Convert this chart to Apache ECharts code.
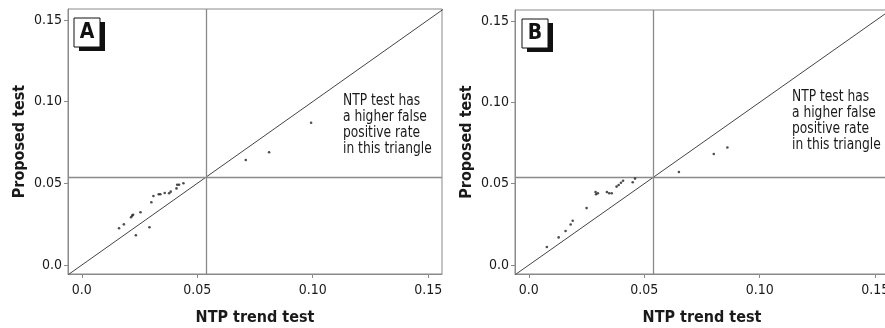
<!DOCTYPE html>
<html>
<head>
<meta charset="utf-8">
<script src="https://cdn.jsdelivr.net/npm/echarts@6/dist/echarts.min.js"></script>
<style>
html, body { margin: 0; padding: 0; background: #fff; }
#chart { width: 885px; height: 328px; }
</style>
</head>
<body>
<div id="chart"></div>
<script>
// panel A
const ntpA = [0.0161, 0.0182, 0.0234, 0.0213, 0.0218, 0.0222, 0.0254, 0.0293, 0.0301, 0.0310,
    0.0333, 0.0340, 0.0359, 0.0378, 0.0385, 0.0410, 0.0413, 0.0421, 0.0440, 0.0710, 0.0811, 0.0993]
const propA = [0.0225, 0.0249, 0.0182, 0.0292, 0.0302, 0.0308, 0.0323, 0.0231, 0.0384, 0.0422,
    0.0433, 0.0433, 0.0441, 0.0439, 0.0449, 0.0469, 0.0491, 0.0491, 0.0500, 0.0643, 0.0690, 0.0871]
// panel B
const ntpB = [0.0078, 0.0129, 0.0159, 0.0181, 0.0190, 0.0250, 0.0289, 0.0291, 0.0299, 0.0338, 0.0348,
    0.0359, 0.0380, 0.0389, 0.0399, 0.0408, 0.0450, 0.0460, 0.0650, 0.0801, 0.0860]
const propB = [0.0111, 0.0170, 0.0209, 0.0249, 0.0272, 0.0350, 0.0449, 0.0435, 0.0441, 0.0449, 0.0441,
    0.0441, 0.0482, 0.0492, 0.0506, 0.0518, 0.0509, 0.0531, 0.0572, 0.0682, 0.0722]

const tickValues = [0, 0.05, 0.10, 0.15]
const tickLabels = ['0.0', '0.05', '0.10', '0.15']
const cutoff = 0.054
const axisMin = -0.006
const axisMax = 0.156

const font = "'Liberation Sans Narrow', 'DejaVu Sans Condensed', sans-serif"
const frameColor = '#8a8a8a'
const textColor = '#1a1a1a'

function zip(xs, ys) {
    return xs.map((x, i) => [x, ys[i]])
}

function labelFmt(v) {
    let i = tickValues.findIndex(t => Math.abs(t - v) < 1e-9)
    return i >= 0 ? tickLabels[i] : ''
}

function makeX(idx) {
    return {
        type: 'value', gridIndex: idx, min: axisMin, max: axisMax,
        name: 'NTP trend test', nameLocation: 'middle', nameGap: 36,
        nameTextStyle: { fontFamily: font, fontWeight: 'bold', fontSize: 16, color: textColor },
        axisLine: { show: true, onZero: false, lineStyle: { color: frameColor } },
        axisTick: { show: true, inside: false, length: 4, customValues: tickValues, lineStyle: { color: frameColor } },
        axisLabel: { customValues: tickValues, formatter: labelFmt, margin: 9,
            fontFamily: font, fontSize: 14, color: textColor },
        splitLine: { show: false }
    }
}

function makeY(idx) {
    return {
        type: 'value', gridIndex: idx, min: -0.0055, max: 0.1567,
        name: 'Proposed test', nameLocation: 'middle', nameGap: 40,
        nameTextStyle: { fontFamily: font, fontWeight: 'bold', fontSize: 16, color: textColor },
        axisLine: { show: true, onZero: false, lineStyle: { color: frameColor } },
        axisTick: { show: true, inside: false, length: 4, customValues: tickValues, lineStyle: { color: frameColor } },
        axisLabel: { customValues: tickValues, formatter: labelFmt, margin: 6,
            fontFamily: font, fontSize: 14, color: textColor },
        splitLine: { show: false }
    }
}

function makeSeries(idx, xs, ys) {
    return [{
        type: 'scatter', xAxisIndex: idx, yAxisIndex: idx,
        data: zip(xs, ys), symbol: 'circle', symbolSize: 2.6,
        itemStyle: { color: '#222' }, silent: true, z: 5,
        markLine: {
            silent: true, symbol: 'none', animation: false, precision: 4,
            label: { show: false },
            lineStyle: { color: frameColor, width: 1.3, type: 'solid' },
            data: [{ xAxis: cutoff }, { yAxis: cutoff }]
        }
    }, {
        type: 'line', xAxisIndex: idx, yAxisIndex: idx,
        data: [[axisMin, axisMin], [0.17, 0.17]], symbol: 'none', silent: true,
        lineStyle: { color: '#444', width: 1 }, clip: true
    }]
}

function panelBox(x, y, letter) {
    return [
        { type: 'rect', shape: { x: x + 5, y: y + 4, width: 26, height: 29 }, style: { fill: '#111' } },
        { type: 'rect', shape: { x: x, y: y, width: 26, height: 29 }, style: { fill: '#fff', stroke: '#111', lineWidth: 1 } },
        { type: 'text', x: x + 13, y: y + 15, style: { text: letter, fill: '#111', align: 'center',
            verticalAlign: 'middle', font: 'bold 21px ' + font } }
    ]
}

function note(x, y) {
    return { type: 'text', x: x, y: y, scaleX: 0.91, style: {
        text: 'NTP test has\na higher false\npositive rate\nin this triangle',
        fill: textColor, font: '15px ' + font, lineHeight: 16, align: 'left', verticalAlign: 'top' } }
}

let option = {
    animation: false,
    backgroundColor: '#fff',
    grid: [
        { left: 68, top: 9, width: 374, height: 265, show: true, borderColor: frameColor, borderWidth: 1,
            containLabel: false, outerBoundsMode: 'none' },
        { left: 515, top: 10, width: 374, height: 264, show: true, borderColor: frameColor, borderWidth: 1,
            containLabel: false, outerBoundsMode: 'none' }
    ],
    xAxis: [makeX(0), makeX(1)],
    yAxis: [makeY(0), makeY(1)],
    series: makeSeries(0, ntpA, propA).concat(makeSeries(1, ntpB, propB)),
    graphic: [].concat(panelBox(74, 18, 'A'), panelBox(522, 19, 'B'), [note(343, 93), note(792, 89)])
}

var myChart = echarts.init(document.getElementById('chart'))
myChart.setOption(option)
</script>
</body>
</html>
